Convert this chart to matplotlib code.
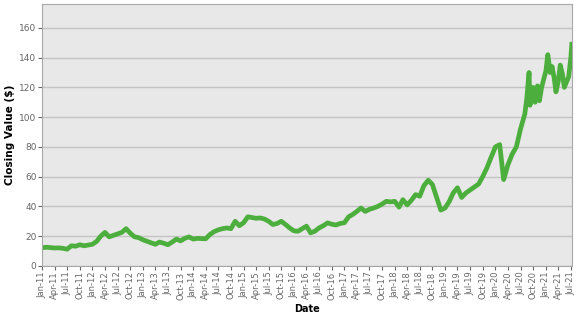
import matplotlib
matplotlib.use('Agg')
import matplotlib.pyplot as plt
import matplotlib.dates as mdates
import numpy as np
import pandas as pd

# monthly closes, Jan-11 .. Jul-20
monthly_closes = [
    12.2, 12.5, 12.3, 12.0, 12.1, 11.8, 11.2, 13.5, 13.2, 14.2, 13.5, 14.0,
    14.5, 16.5, 20.0, 22.5, 19.5, 20.5, 21.5, 22.5, 25.0, 22.0, 19.5, 19.0,
    17.5, 16.5, 15.5, 14.5, 16.0, 15.2, 14.2, 16.0, 18.0, 16.8, 18.5, 19.5,
    18.0, 18.5, 18.3, 18.2, 21.0, 23.0, 24.2, 25.0, 25.5, 25.0, 30.0, 27.0,
    29.0, 33.0, 32.5, 32.0, 32.2, 31.5, 30.0, 27.8, 28.5, 30.0, 27.8, 25.5,
    23.5, 23.3, 25.0, 26.7, 22.2, 23.3, 25.5, 27.0, 28.9, 28.0, 27.5, 28.5,
    29.0, 33.0, 34.5, 36.6, 38.9, 36.6, 38.0, 38.9, 40.0, 41.5, 43.4, 43.0,
    43.4, 39.5, 44.5, 41.0, 44.0, 47.9, 46.8, 54.0, 57.6, 54.7, 46.0, 37.5,
    38.9, 43.4, 49.0, 52.5, 46.0, 49.0, 51.0, 53.0, 55.0, 60.0, 66.0, 73.0,
    80.0, 81.5, 58.0, 68.0, 75.0, 80.0, 92.0,
]

# twice-monthly closes for the volatile stretch, Aug-20 .. Jul-21
late_dates = [
    '2020-08-01', '2020-08-15', '2020-09-01', '2020-09-08', '2020-09-20',
    '2020-10-01', '2020-10-15', '2020-11-01', '2020-11-15', '2020-12-01',
    '2020-12-15', '2021-01-01', '2021-01-15', '2021-02-01', '2021-02-15',
    '2021-03-01', '2021-03-15', '2021-04-01', '2021-04-15', '2021-05-01',
    '2021-05-15', '2021-06-01', '2021-06-15', '2021-07-01', '2021-07-08',
]
late_closes = [
    102.0, 112.0, 130.0, 108.0, 116.0,
    120.0, 110.0, 121.0, 111.0, 120.0,
    125.0, 131.0, 142.0, 130.0, 134.0,
    127.0, 117.0, 124.0, 135.0, 129.0,
    120.0, 124.0, 127.0, 140.0, 149.0,
]

dates = list(pd.date_range('2011-01-01', periods=len(monthly_closes), freq='MS')) + \
    list(pd.to_datetime(late_dates))
closes = monthly_closes + late_closes

fig = plt.figure(figsize=(5.77, 3.15), dpi=100)
ax = fig.add_axes([0.073, 0.156, 0.918, 0.831])
ax.set_facecolor('#e8e8e8')

ax.plot(dates, closes, color='#4cae3c', linewidth=3.4, solid_joinstyle='round')

ax.set_ylim(0, 176)
ax.set_yticks(np.arange(0, 161, 20))
ax.set_xlim(pd.Timestamp('2011-01-01'), pd.Timestamp('2021-07-08'))
ax.xaxis.set_major_locator(mdates.MonthLocator(bymonth=[1, 4, 7, 10]))
ax.xaxis.set_major_formatter(mdates.DateFormatter('%b-%y'))

ax.grid(axis='y', color='#c4c4c4', linewidth=1.0)
ax.set_axisbelow(True)
for side in ax.spines.values():
    side.set_color('#a8a8a8')
    side.set_linewidth(0.8)

ax.tick_params(axis='x', labelrotation=90, labelsize=6, colors='#666666', length=3, pad=1)
ax.tick_params(axis='y', labelsize=6.5, colors='#666666', length=3, pad=1)

ax.set_xlabel('Date', fontsize=7, fontweight='bold', labelpad=3)
ax.set_ylabel('Closing Value ($)', fontsize=7.6, fontweight='bold', labelpad=3)

fig.savefig('out.png', dpi=100)
